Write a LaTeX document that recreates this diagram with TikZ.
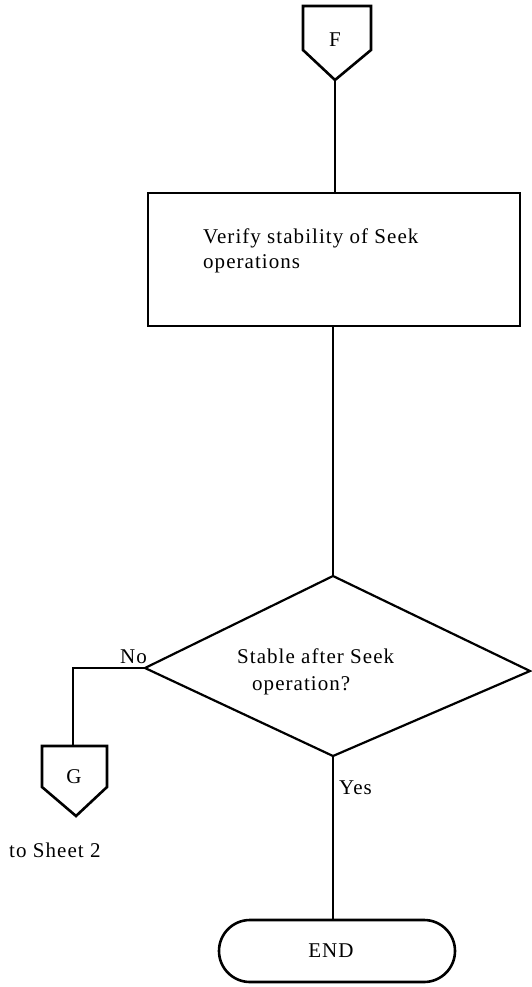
\documentclass[tikz,border=0pt]{standalone}
\usepackage{fontspec}
\setmainfont{Liberation Serif}[LetterSpace=5]
\usetikzlibrary{shapes.misc}
\begin{document}
\begin{tikzpicture}[x=1pt,y=-1pt,
  heavy/.style={line width=2.6pt, line join=miter},
  medium/.style={line width=2.2pt, line join=miter},
  conn/.style={line width=1.2pt},
  lbl/.style={font=\fontsize{21}{25}\selectfont, inner sep=0pt}]
\useasboundingbox (0,0) rectangle (532,987);
\fill[white] (0,0) rectangle (532,987);
% connector F
\coordinate (Fnw) at (303,6);
\coordinate (Fne) at (371,6);
\coordinate (Fse) at (371,50);
\coordinate (Ftip) at (335,80);
\coordinate (Fsw) at (303,50);
\draw[heavy] (Fsw) -- (Fnw) -- (Fne) -- (Fse) -- (Ftip) -- cycle;
\node[lbl] (Flbl) at (335,40) {F};
% process box
\node[draw, line width=2.8pt, minimum width=372pt, minimum height=133pt, inner sep=0pt] (box) at (334,259.5) {};
\node[lbl, anchor=base west] (t1) at (203,243) {Verify stability of Seek};
\node[lbl, anchor=base west] (t2) at (203,268) {operations};
% decision
\coordinate (Dt) at (333,576);
\coordinate (Dl) at (145,668);
\coordinate (Dr) at (530,671);
\coordinate (Db) at (333,756);
\draw[medium] (Dt) -- (Dr) -- (Db) -- (Dl) -- cycle;
\node[lbl, anchor=base west] (d1) at (237,663) {Stable after Seek};
\node[lbl, anchor=base west] (d2) at (252,690) {operation?};
% connector G
\coordinate (Gnw) at (42,746);
\coordinate (Gne) at (107,746);
\coordinate (Gse) at (107,787);
\coordinate (Gtip) at (76,816);
\coordinate (Gsw) at (42,787);
\coordinate (Gin) at (73,746);
\coordinate (Nbend) at (73,668);
\draw[heavy] (Gsw) -- (Gnw) -- (Gne) -- (Gse) -- (Gtip) -- cycle;
\node[lbl] (Glbl) at (74,777) {G};
\node[lbl, anchor=base west] (sheet) at (9,857) {to Sheet 2};
% terminal
\node[draw, rounded rectangle, line width=2.6pt, minimum width=236pt, minimum height=62pt, inner sep=0pt] (end) at (337,951) {};
\node[lbl] (endlbl) at (331,951) {END};
% connectors
\draw[conn] (Ftip) -- (Ftip |- box.north);
\draw[conn] (Dt |- box.south) -- (Dt);
\draw[conn] (Db) -- (Db |- end.north);
\draw[conn] (Dl) -- (Nbend) -- (Gin);
\node[lbl, anchor=base west] (no) at (120,663) {No};
\node[lbl, anchor=base west] (yes) at (339,794) {Yes};
\end{tikzpicture}
\end{document}
